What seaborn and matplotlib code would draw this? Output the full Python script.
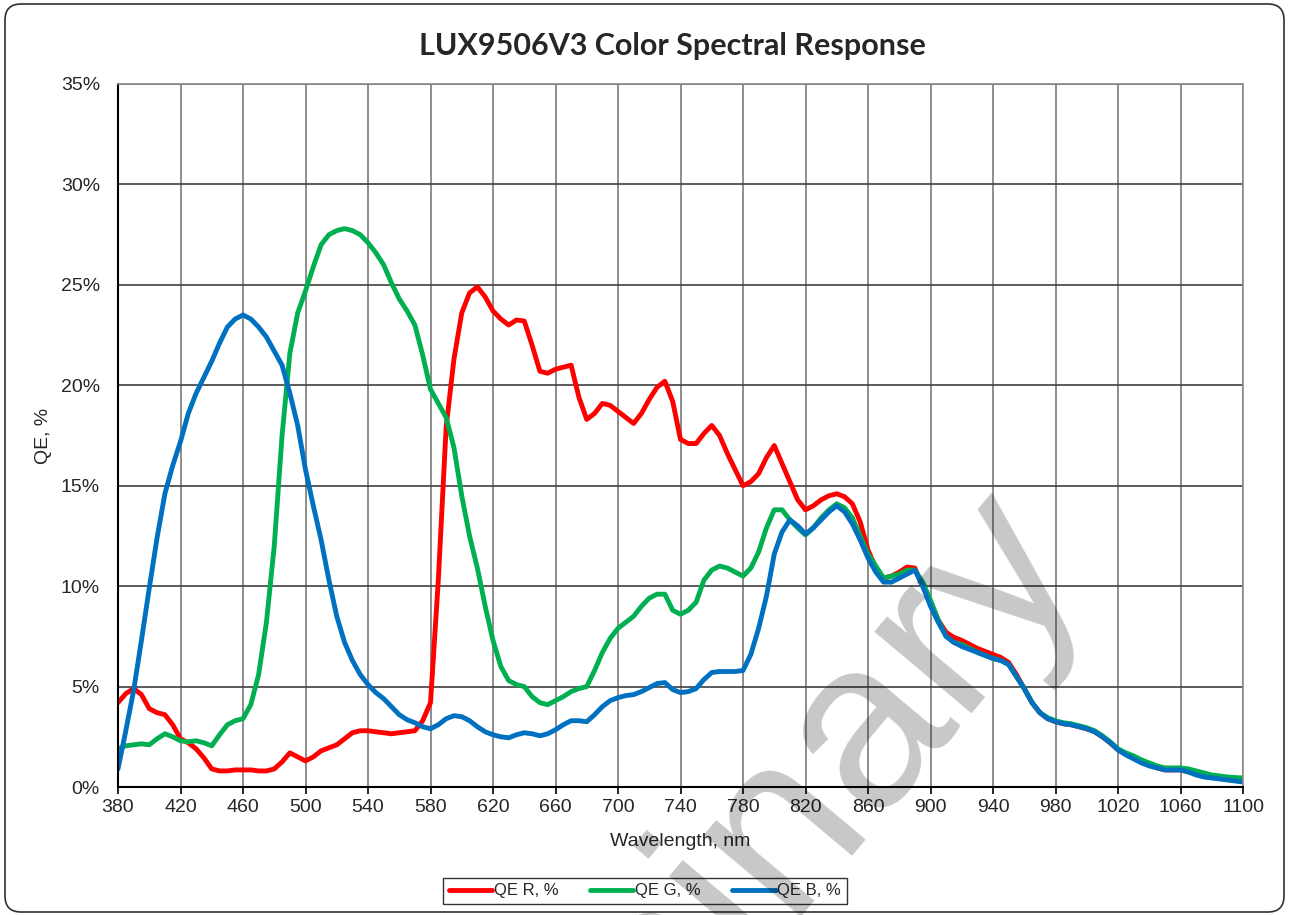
import numpy as np
import pandas as pd
import seaborn as sns
import matplotlib.pyplot as plt
from matplotlib.patches import FancyBboxPatch
from matplotlib.ticker import FuncFormatter

# wavelength grid (nm, 5 nm step) and QE values (%)
wavelength = list(range(380, 1101, 5))

qe_r = [4.2, 4.65, 4.9, 4.6, 3.9, 3.7, 3.6, 3.1, 2.4, 2.2,
        1.9, 1.45, 0.9, 0.8, 0.8, 0.85, 0.85, 0.85, 0.8, 0.8,
        0.9, 1.25, 1.7, 1.5, 1.3, 1.5, 1.8, 1.95, 2.1, 2.4,
        2.7, 2.8, 2.8, 2.75, 2.7, 2.65, 2.7, 2.75, 2.8, 3.3,
        4.2, 10.3, 17.9, 21.3, 23.6, 24.6, 24.9, 24.4, 23.7, 23.3,
        23.0, 23.25, 23.2, 22.0, 20.7, 20.6, 20.8, 20.9, 21.0, 19.4,
        18.3, 18.6, 19.1, 19.0, 18.7, 18.4, 18.1, 18.6, 19.3, 19.9,
        20.2, 19.2, 17.3, 17.1, 17.1, 17.6, 18.0, 17.5, 16.6, 15.8,
        15.0, 15.2, 15.6, 16.4, 17.0, 16.1, 15.2, 14.3, 13.8, 14.0,
        14.3, 14.5, 14.6, 14.45, 14.1, 13.2, 11.8, 10.9, 10.4, 10.5,
        10.7, 10.95, 10.9, 10.0, 9.2, 8.3, 7.7, 7.45, 7.3, 7.1,
        6.9, 6.75, 6.6, 6.45, 6.2, 5.6, 4.9, 4.2, 3.7, 3.4,
        3.25, 3.15, 3.1, 3.0, 2.9, 2.75, 2.5, 2.2, 1.85, 1.65,
        1.45, 1.25, 1.1, 0.95, 0.85, 0.85, 0.85, 0.75, 0.65, 0.55,
        0.5, 0.45, 0.4, 0.35, 0.3]

qe_g = [1.9, 2.05, 2.1, 2.15, 2.1, 2.4, 2.65, 2.5, 2.3, 2.25,
        2.3, 2.2, 2.05, 2.6, 3.1, 3.3, 3.4, 4.1, 5.6, 8.2,
        12.0, 17.5, 21.6, 23.6, 24.7, 25.9, 27.0, 27.5, 27.7, 27.8,
        27.7, 27.5, 27.1, 26.6, 26.0, 25.1, 24.3, 23.7, 23.0, 21.5,
        19.8, 19.1, 18.4, 16.9, 14.5, 12.5, 10.9, 9.0, 7.3, 6.0,
        5.3, 5.1, 5.0, 4.5, 4.2, 4.1, 4.3, 4.5, 4.75, 4.9,
        5.0, 5.8, 6.7, 7.4, 7.9, 8.2, 8.5, 9.0, 9.4, 9.6,
        9.6, 8.8, 8.6, 8.8, 9.2, 10.3, 10.8, 11.0, 10.9, 10.7,
        10.5, 10.9, 11.7, 12.9, 13.8, 13.8, 13.3, 12.9, 12.55, 12.9,
        13.4, 13.8, 14.1, 13.9, 13.4, 12.5, 11.6, 11.0, 10.4, 10.5,
        10.6, 10.8, 10.8, 10.2, 9.3, 8.3, 7.5, 7.2, 7.1, 6.9,
        6.7, 6.55, 6.4, 6.3, 6.1, 5.5, 4.9, 4.2, 3.7, 3.45,
        3.3, 3.2, 3.15, 3.05, 2.95, 2.8, 2.55, 2.25, 1.9, 1.7,
        1.55, 1.35, 1.2, 1.05, 0.95, 0.95, 0.95, 0.9, 0.8, 0.7,
        0.6, 0.55, 0.5, 0.47, 0.45]

qe_b = [0.9, 2.8, 4.8, 7.3, 9.9, 12.4, 14.6, 16.0, 17.2, 18.6,
        19.6, 20.4, 21.2, 22.1, 22.9, 23.3, 23.5, 23.3, 22.9, 22.4,
        21.7, 21.0, 19.6, 18.0, 15.8, 14.0, 12.3, 10.3, 8.5, 7.2,
        6.3, 5.6, 5.1, 4.7, 4.4, 4.0, 3.6, 3.35, 3.2, 3.0,
        2.9, 3.1, 3.4, 3.55, 3.5, 3.3, 3.0, 2.75, 2.6, 2.5,
        2.45, 2.6, 2.7, 2.65, 2.55, 2.65, 2.85, 3.1, 3.3, 3.3,
        3.25, 3.6, 4.0, 4.3, 4.45, 4.55, 4.6, 4.75, 4.95, 5.15,
        5.2, 4.85, 4.7, 4.75, 4.9, 5.35, 5.7, 5.75, 5.75, 5.75,
        5.8, 6.6, 7.9, 9.5, 11.6, 12.7, 13.3, 13.0, 12.6, 12.9,
        13.3, 13.7, 14.0, 13.7, 13.1, 12.3, 11.4, 10.7, 10.2, 10.2,
        10.4, 10.6, 10.8, 10.0, 9.0, 8.2, 7.5, 7.2, 7.0, 6.85,
        6.7, 6.55, 6.4, 6.3, 6.1, 5.5, 4.9, 4.2, 3.7, 3.4,
        3.25, 3.15, 3.1, 3.0, 2.9, 2.75, 2.5, 2.2, 1.85, 1.6,
        1.4, 1.2, 1.05, 0.95, 0.85, 0.85, 0.85, 0.75, 0.6, 0.5,
        0.45, 0.4, 0.35, 0.3, 0.25]

series_names = ['QE R, %', 'QE G, %', 'QE B, %']
series_colors = ['#FF0000', '#00B050', '#0070C0']

df = pd.DataFrame({
    'wl': wavelength * 3,
    'qe': qe_r + qe_g + qe_b,
    'series': np.repeat(series_names, len(wavelength)),
})

sns.set_theme(style='white')
plt.rcParams['font.family'] = ['Liberation Sans', 'DejaVu Sans']

fig = plt.figure(figsize=(12.89, 9.15), dpi=100)
ax = fig.add_axes([118 / 1289, 1 - 787 / 915, 1125 / 1289, 703 / 915])

sns.lineplot(data=df, x='wl', y='qe', hue='series', hue_order=series_names,
             palette=series_colors, linewidth=3.5, errorbar=None, ax=ax)
for line in ax.lines:
    line.set_solid_joinstyle('round')
    line.set_solid_capstyle('round')

ax.set_xlim(380, 1100)
ax.set_ylim(0, 35)
ax.set_xticks(range(380, 1101, 40))
ax.set_yticks(range(0, 36, 5))
ax.yaxis.set_major_formatter(FuncFormatter(lambda v, p: f'{v:.0f}%'))

# grid: vertical lines lighter, horizontal darker
ax.grid(False)
for x in range(420, 1101, 40):
    ax.axvline(x, color='#8c8c8c', lw=1.4, zorder=0)
for y in range(5, 36, 5):
    ax.axhline(y, color='#404040', lw=1.2, zorder=0)

for side in ['top', 'right']:
    ax.spines[side].set_color('#8c8c8c')
    ax.spines[side].set_linewidth(1.2)
for side in ['left', 'bottom']:
    ax.spines[side].set_color('black')
    ax.spines[side].set_linewidth(1.5)

ax.tick_params(axis='x', direction='out', length=5, width=1.2, color='black',
               bottom=True, labelsize=14, pad=4)
ax.tick_params(axis='y', length=0, labelsize=14, pad=13)

ax.set_xlabel('Wavelength, nm', fontsize=14, labelpad=12)
ax.set_ylabel('QE, %', fontsize=14, labelpad=6)

fig.text(0.522, 1 - 46 / 915, 'LUX9506V3 Color Spectral Response',
         ha='center', va='center', fontsize=22, fontweight='bold',
         family=['Lato', 'DejaVu Sans'])

handles, labels = ax.get_legend_handles_labels()
ax.get_legend().remove()
leg = fig.legend(handles, labels, loc='center', bbox_to_anchor=(645 / 1289, 1 - 891 / 915),
                 ncol=3, fontsize=12, frameon=True, fancybox=False,
                 handlelength=2.6, handletextpad=0.1, columnspacing=1.9,
                 borderpad=0.35)
leg.get_frame().set_edgecolor('black')
leg.get_frame().set_linewidth(1.0)

# watermark
fig.text(652 / 1289, 1 - 975 / 915, 'Preliminary', rotation=50, rotation_mode='anchor',
         ha='center', va='center', fontsize=172, color='black', alpha=0.22, zorder=10)

# rounded outer border
border = FancyBboxPatch((0.05, 0.03), 12.79, 9.08, boxstyle='round,pad=0,rounding_size=0.16',
                        transform=fig.dpi_scale_trans, fill=False, edgecolor='#303030', lw=1.2)
fig.patches.append(border)

fig.savefig('out.png', dpi=100)
